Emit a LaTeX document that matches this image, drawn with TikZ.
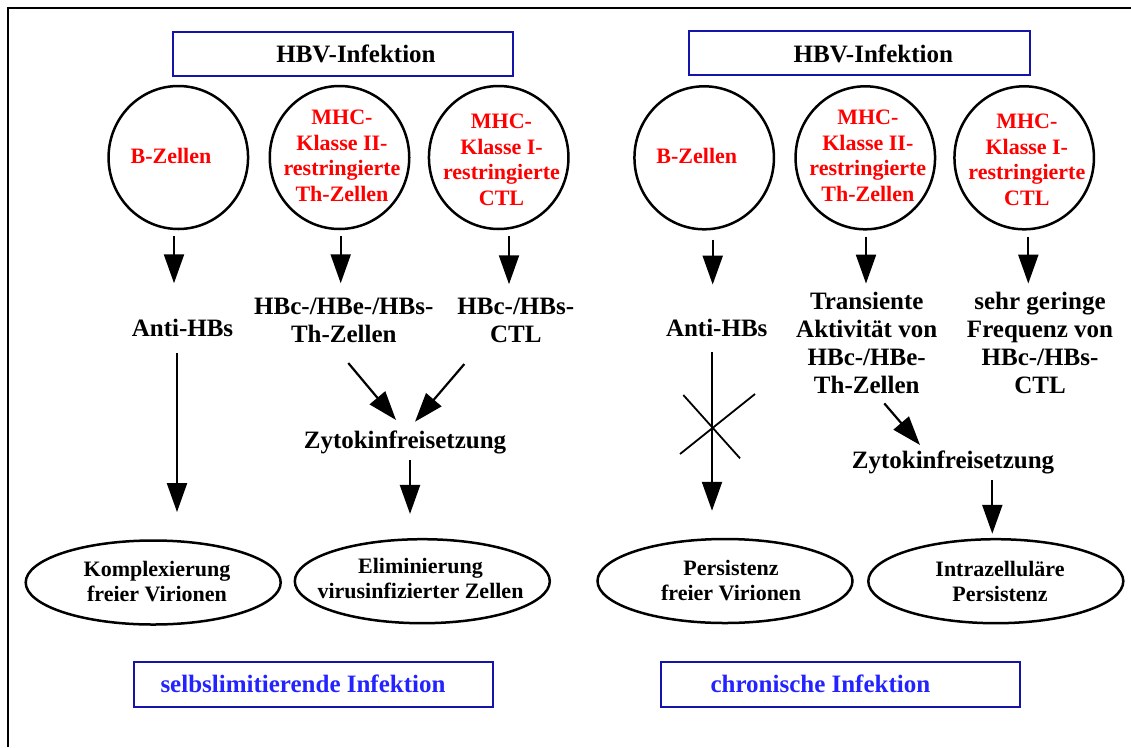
\documentclass[tikz,border=0pt]{standalone}
\usepackage{fontspec}
\setmainfont{Liberation Serif}
\usetikzlibrary{arrows.meta,shapes.geometric}
\definecolor{boxblue}{RGB}{20,20,170}
\definecolor{txtblue}{RGB}{35,35,255}
\definecolor{cellred}{RGB}{255,0,0}
\begin{document}
\begin{tikzpicture}[x=1pt,y=-1pt,
  lbl/.style={font=\bfseries\fontsize{25}{28}\selectfont, align=center, inner sep=0pt},
  redlbl/.style={font=\bfseries\fontsize{22}{25.5}\selectfont, text=cellred, align=center, inner sep=0pt},
  cell/.style={ellipse, draw, line width=2.5pt, minimum width=139.5pt, minimum height=143pt, inner sep=0pt},
  outcome/.style={ellipse, draw, line width=2.5pt, minimum width=255pt, minimum height=84pt, inner sep=0pt},
  outtxt/.style={align=center, inner sep=0pt, font=\bfseries\fontsize{22}{25}\selectfont},
  topbox/.style={draw=boxblue, line width=2pt, minimum width=340.6pt, minimum height=44pt, inner sep=0pt, font=\bfseries\fontsize{25}{28}\selectfont},
  resbox/.style={draw=boxblue, line width=2pt, minimum width=359pt, minimum height=45pt, inner sep=0pt, text=txtblue, font=\bfseries\fontsize{25}{28}\selectfont},
  arr/.style={line width=2.2pt, -{Triangle[width=20pt,length=29pt]}},
  crossline/.style={line width=1.8pt}
]
\useasboundingbox (0,0) rectangle (1131,747);
\fill[white] (0,0) rectangle (1131,747);
\draw[line width=2pt, line join=miter] (8,747) -- (8,8) -- (1131,8);

% ---------- left: self-limiting ----------
\node[topbox] (hbvL) at (343,53.7) {\hspace*{26pt}HBV-Infektion};
\node[cell] (c1) at (178.3,157.5) {};
\node[cell] (c2) at (339.5,157.5) {};
\node[cell] (c3) at (498.7,157.5) {};
\node[redlbl] (c1t) at (171,156) {B-Zellen};
\node[redlbl] (c2t) at (342,156) {MHC-\\Klasse II-\\restringierte\\Th-Zellen};
\node[redlbl] (c3t) at (501.5,160) {MHC-\\Klasse I-\\restringierte\\CTL};

\node[lbl, anchor=base] (anti1) at (182.5,336) {Anti-HBs};
\node[lbl] (lab2L) at (343.8,320.5) {HBc-/HBe-/HBs-\\Th-Zellen};
\node[lbl] (lab3L) at (515.8,320.5) {HBc-/HBs-\\CTL};
\node[lbl, anchor=base] (zytL) at (405,448.3) {Zytokinfreisetzung};

\node[outcome] (e1) at (153.2,582.5) {};
\node[outcome] (e2) at (422.3,581.2) {};
\node[outtxt] (e1t) at (157,581.5) {Komplexierung\\freier Virionen};
\node[outtxt] (e2t) at (420.5,578.5) {Eliminierung\\virusinfizierter Zellen};
\node[resbox] (b1) at (313.5,684.2) {selbslimitierende Infektion\hspace*{21pt}};

\draw[arr] ([shift={(-4.3,6)}]c1.south) -- ([shift={(-4.3,53)}]c1.south);
\draw[arr] ([shift={(1.2,6)}]c2.south) -- ([shift={(1.2,53)}]c2.south);
\draw[arr] ([shift={(10.3,6)}]c3.south) -- ([shift={(10.3,54)}]c3.south);
\draw[arr] ([shift={(-5.5,16.7)}]anti1.base) -- ([shift={(23.8,-27.2)}]e1.north);
\draw[arr] ([shift={(4.5,20)}]lab2L.south) -- ([shift={(-9,-28.3)}]zytL.base);
\draw[arr] ([shift={(-51.5,21)}]lab3L.south) -- ([shift={(10,-26.6)}]zytL.base);
\draw[arr] ([shift={(5,11.7)}]zytL.base) -- ([shift={(-12.3,-24)}]e2.north);

% ---------- right: chronic ----------
\node[topbox] (hbvR) at (859.3,53.4) {\hspace*{28pt}HBV-Infektion};
\node[cell] (c4) at (704.2,157.8) {};
\node[cell] (c5) at (865.3,157.8) {};
\node[cell] (c6) at (1024.2,157.8) {};
\node[redlbl] (c4t) at (696.8,156) {B-Zellen};
\node[redlbl] (c5t) at (867.8,156) {MHC-\\Klasse II-\\restringierte\\Th-Zellen};
\node[redlbl] (c6t) at (1026.8,160) {MHC-\\Klasse I-\\restringierte\\CTL};

\node[lbl, anchor=base] (anti2) at (716.7,336) {Anti-HBs};
\node[lbl] (lab5R) at (866.7,343) {Transiente\\Aktivität von\\HBc-/HBe-\\Th-Zellen};
\node[lbl] (lab6R) at (1040,343.2) {sehr geringe\\Frequenz von\\HBc-/HBs-\\CTL};
\node[lbl, anchor=base] (zytR) at (953,468.3) {Zytokinfreisetzung};

\node[outcome] (e3) at (725,581) {};
\node[outcome] (e4) at (995.8,581.2) {};
\node[outtxt] (e3t) at (731,581) {Persistenz\\freier Virionen};
\node[outtxt] (e4t) at (1000,581) {Intrazelluläre\\Persistenz};
\node[resbox] (b2) at (840.4,684.3) {chronische Infektion\hspace*{40pt}};

\draw[arr] ([shift={(8.5,9)}]c4.south) -- ([shift={(8.5,54)}]c4.south);
\draw[arr] ([shift={(0.7,6)}]c5.south) -- ([shift={(0.7,53)}]c5.south);
\draw[arr] ([shift={(4.1,6)}]c6.south) -- ([shift={(4.1,53)}]c6.south);
\draw[arr] ([shift={(-4.7,16)}]anti2.base) -- ([shift={(-13,-27)}]e3.north);
\coordinate (blk) at (712.5,427);
\draw[crossline] ([shift={(-29.2,-32)}]blk) -- ([shift={(27.5,31.3)}]blk);
\draw[crossline] ([shift={(42.5,-33)}]blk) -- ([shift={(-32.5,27)}]blk);
\draw[arr] ([shift={(17.6,9.4)}]lab5R.south) -- ([shift={(-33,-23.3)}]zytR.base);
\draw[arr] ([shift={(39.3,11.7)}]zytR.base) -- ([shift={(-3.5,-4.2)}]e4.north);
\end{tikzpicture}
\end{document}
